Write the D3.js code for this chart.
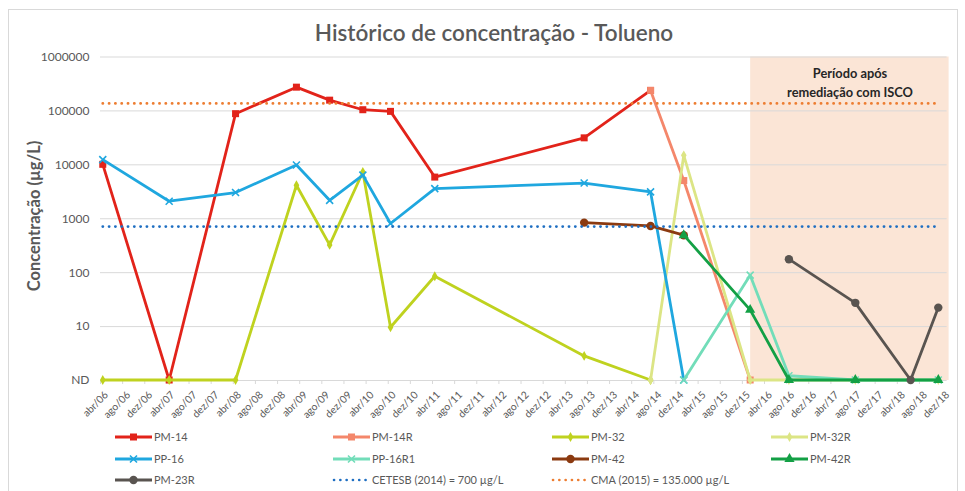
<!DOCTYPE html>
<html>
<head>
<meta charset="utf-8">
<script src="https://cdn.jsdelivr.net/npm/d3@7"></script>
<style>
  html, body { margin: 0; padding: 0; background: #ffffff; }
  svg { display: block; font-family: Lato, "Open Sans", "Liberation Sans", sans-serif; }
</style>
</head>
<body>
<svg id="chart" width="965" height="491"></svg>
<script>
// ---- Data --------------------------------------------------------------
// Sampling dates are "YYYY-MM"; "ND" = não detectado (plotted on the ND line).
const xTickLabels = [
  "abr/06","ago/06","dez/06","abr/07","ago/07","dez/07","abr/08","ago/08","dez/08",
  "abr/09","ago/09","dez/09","abr/10","ago/10","dez/10","abr/11","ago/11","dez/11",
  "abr/12","ago/12","dez/12","abr/13","ago/13","dez/13","abr/14","ago/14","dez/14",
  "abr/15","ago/15","dez/15","abr/16","ago/16","dez/16","abr/17","ago/17","dez/17",
  "abr/18","ago/18","dez/18"
];
const yTickValues = [1, 10, 100, 1000, 10000, 100000, 1000000];
const yTickLabels = ["ND", "10", "100", "1000", "10000", "100000", "1000000"];

const pm14Dates   = ["2006-04","2007-04","2008-04","2009-03","2009-09","2010-03","2010-08","2011-04","2013-07","2014-07"];
const pm14Values  = [10000, "ND", 87000, 270000, 155000, 103000, 96000, 5800, 31000, 235000];

const pm14RDates  = ["2014-07","2015-01","2016-01"];
const pm14RValues = [235000, 5000, "ND"];

const pm32Dates   = ["2006-04","2007-04","2008-04","2009-03","2009-09","2010-03","2010-08","2011-04","2013-07","2014-07"];
const pm32Values  = ["ND", "ND", "ND", 4100, 320, 7200, 9.5, 84, 2.8, "ND"];

const pm32RDates  = ["2014-07","2015-01","2016-01","2016-08","2017-08","2018-11"];
const pm32RValues = ["ND", 14700, "ND", "ND", "ND", "ND"];

const pp16Dates   = ["2006-04","2007-04","2008-04","2009-03","2009-09","2010-03","2010-08","2011-04","2013-07","2014-07","2015-01"];
const pp16Values  = [12200, 2070, 3000, 9700, 2150, 6300, 800, 3550, 4500, 3080, "ND"];

const pp16R1Dates  = ["2015-01","2016-01","2016-08","2017-08","2018-11"];
const pp16R1Values = ["ND", 88, 1.2, "ND", "ND"];

const pm42Dates   = ["2013-07","2014-07","2015-01"];
const pm42Values  = [830, 720, 485];

const pm42RDates  = ["2015-01","2016-01","2016-08","2017-08","2018-11"];
const pm42RValues = [485, 20, "ND", "ND", "ND"];

const pm23RDates  = ["2016-08","2017-08","2018-06","2018-11"];
const pm23RValues = [174, 27, "ND", 22];

// Reference limits (µg/L)
const cetesbLimit = 700;
const cmaLimit = 135000;
const limitSpan = ["2006-04", "2018-11"];

// Post-remediation period
const iscoStart = "2016-01";

// ---- Helpers -----------------------------------------------------------
const monthIndex = s => {
  const [yy, mm] = s.split("-").map(Number);
  return (yy - 2006) * 12 + (mm - 4);
};
const ND_LEVEL = 1;
const val = v => (v === "ND" ? ND_LEVEL : v);

// ---- Layout ------------------------------------------------------------
const svg = d3.select("#chart");
const plotLeft = 100, plotRight = 946.6, plotTop = 56.5, plotBottom = 380;

const x = d3.scaleLinear().domain([0, 153]).range([plotLeft, plotRight]);
const xc = m => x(m + 0.5);               // centre of a monthly slot
const y = d3.scaleLog().domain([1, 1e6]).range([plotBottom, plotTop]);

const textColor = "#595959";
const gridColor = "#D9D9D9";

svg.append("rect").attr("width", 965).attr("height", 491).attr("fill", "#fff");
svg.append("rect")
  .attr("x", 8.5).attr("y", 9.5).attr("width", 949).attr("height", 490)
  .attr("fill", "none").attr("stroke", gridColor).attr("stroke-width", 1);

// Title
svg.append("text")
  .attr("x", 494).attr("y", 41)
  .attr("text-anchor", "middle")
  .attr("font-size", 22.5)
  .attr("font-weight", 600)
  .attr("fill", textColor)
  .text("Histórico de concentração - Tolueno");

// Shaded post-ISCO period
const shadeX = xc(monthIndex(iscoStart));
svg.append("rect")
  .attr("x", shadeX).attr("y", plotTop)
  .attr("width", plotRight + 2 - shadeX).attr("height", plotBottom - plotTop)
  .attr("fill", "#FBE5D6");
const shadeLabel = svg.append("text")
  .attr("text-anchor", "middle")
  .attr("font-size", 12.8).attr("font-weight", "bold")
  .attr("fill", "#262626");
shadeLabel.append("tspan").attr("x", 850).attr("y", 78).text("Período após");
shadeLabel.append("tspan").attr("x", 850).attr("y", 97).text("remediação com ISCO");

// Horizontal gridlines
const grid = svg.append("g")
  .attr("transform", `translate(${plotLeft},0)`)
  .call(d3.axisLeft(y).tickValues(yTickValues).tickSize(-(plotRight - plotLeft)).tickFormat(""));
grid.select(".domain").remove();
grid.selectAll("line").attr("stroke", gridColor).attr("stroke-width", 1);

// Y axis labels
const yAxis = svg.append("g")
  .attr("transform", `translate(${plotLeft},0)`)
  .call(d3.axisLeft(y).tickValues(yTickValues).tickSize(0).tickPadding(10.5)
    .tickFormat((d, i) => yTickLabels[i]));
yAxis.select(".domain").remove();
yAxis.selectAll("text")
  .attr("font-size", 12).attr("fill", textColor)
  .attr("font-family", "Lato, 'Open Sans', sans-serif");

// Y axis title
svg.append("text")
  .attr("transform", "translate(40,216) rotate(-90)")
  .attr("text-anchor", "middle")
  .attr("font-size", 16.5).attr("font-weight", "bold")
  .attr("fill", textColor)
  .text("Concentração (µg/L)");

// X axis tick marks (slot boundaries every 4 months)
const xTicks = svg.append("g")
  .attr("transform", `translate(0,${plotBottom})`)
  .call(d3.axisBottom(x).tickValues(d3.range(0, 154, 4)).tickSize(4).tickFormat(""));
xTicks.select(".domain").remove();
xTicks.selectAll("line").attr("stroke", gridColor);

// X axis labels, rotated
const xLabelAxis = svg.append("g")
  .attr("transform", `translate(0,${plotBottom})`)
  .call(d3.axisBottom(x)
    .tickValues(xTickLabels.map((_, i) => i * 4 + 0.5))
    .tickSize(0)
    .tickFormat((d, i) => xTickLabels[i]));
xLabelAxis.select(".domain").remove();
xLabelAxis.selectAll("text")
  .attr("font-size", 10.3).attr("fill", textColor)
  .attr("font-family", "Lato, 'Open Sans', sans-serif")
  .attr("text-anchor", "end")
  .attr("x", 0).attr("y", 0).attr("dy", "0.35em")
  .attr("transform", "translate(3,13) rotate(-45)");

// ---- Series ------------------------------------------------------------
const series = [
  { name: "PM-14",   dates: pm14Dates,   values: pm14Values,   color: "#E2231A", marker: "square" },
  { name: "PM-14R",  dates: pm14RDates,  values: pm14RValues,  color: "#F4876B", marker: "square" },
  { name: "PM-32",   dates: pm32Dates,   values: pm32Values,   color: "#BFD21F", marker: "diamond" },
  { name: "PM-32R",  dates: pm32RDates,  values: pm32RValues,  color: "#DCE585", marker: "diamond" },
  { name: "PP-16",   dates: pp16Dates,   values: pp16Values,   color: "#1FA7DF", marker: "x" },
  { name: "PP-16R1", dates: pp16R1Dates, values: pp16R1Values, color: "#72DDB9", marker: "x" },
  { name: "PM-42",   dates: pm42Dates,   values: pm42Values,   color: "#8B3A10", marker: "circle" },
  { name: "PM-42R",  dates: pm42RDates,  values: pm42RValues,  color: "#13A045", marker: "triangle" },
  { name: "PM-23R",  dates: pm23RDates,  values: pm23RValues,  color: "#595450", marker: "circle" }
];
const limits = [
  { name: "CETESB (2014) = 700 µg/L",     value: cetesbLimit, color: "#1F6FC2" },
  { name: "CMA (2015) = 135.000 µg/L",    value: cmaLimit,    color: "#ED7D31" }
];

function drawMarker(g, type, color) {
  if (type === "square") {
    g.append("rect").attr("x", -3.5).attr("y", -3.5).attr("width", 7).attr("height", 7).attr("fill", color);
  } else if (type === "diamond") {
    g.append("path").attr("d", d3.symbol(d3.symbolDiamond, 28)()).attr("fill", color);
  } else if (type === "circle") {
    g.append("circle").attr("r", 4.2).attr("fill", color);
  } else if (type === "triangle") {
    g.append("path").attr("d", d3.symbol(d3.symbolTriangle, 45)()).attr("fill", color);
  } else if (type === "x") {
    g.append("path").attr("d", "M-3.5,-3.5L3.5,3.5M-3.5,3.5L3.5,-3.5")
      .attr("stroke", color).attr("stroke-width", 1.6).attr("fill", "none");
  }
}

const line = d3.line().x(d => xc(d.m)).y(d => y(d.v));

const plot = svg.append("g");
series.forEach(s => {
  const pts = s.dates.map((d, i) => ({ m: monthIndex(d), v: val(s.values[i]) }));
  const g = plot.append("g");
  g.append("path").datum(pts)
    .attr("d", line)
    .attr("fill", "none").attr("stroke", s.color)
    .attr("stroke-width", 2.8).attr("stroke-linejoin", "round");
  pts.forEach(p => {
    const mg = g.append("g").attr("transform", `translate(${xc(p.m)},${y(p.v)})`);
    drawMarker(mg, s.marker, s.color);
  });
});

limits.forEach(l => {
  const pts = limitSpan.map(d => ({ m: monthIndex(d), v: l.value }));
  plot.append("path").datum(pts)
    .attr("d", line)
    .attr("fill", "none").attr("stroke", l.color)
    .attr("stroke-width", 2.8).attr("stroke-linecap", "round")
    .attr("stroke-dasharray", "0.1,6.2");
});

// ---- Legend ------------------------------------------------------------
const legendCols = [115, 333, 552, 771];
const legendRows = [437, 459, 480];
const legendItems = series.map(s => ({ name: s.name, color: s.color, marker: s.marker }))
  .concat(limits.map(l => ({ name: l.name, color: l.color, dotted: true })));
const legend = svg.append("g");
legendItems.forEach((it, i) => {
  const lx = legendCols[i % 4], ly = legendRows[Math.floor(i / 4)];
  const g = legend.append("g").attr("transform", `translate(${lx},${ly})`);
  if (it.dotted) {
    g.append("line").attr("x1", 1).attr("x2", 36).attr("y1", 0).attr("y2", 0)
      .attr("stroke", it.color).attr("stroke-width", 2.6)
      .attr("stroke-linecap", "round").attr("stroke-dasharray", "0.1,6.2");
  } else {
    g.append("line").attr("x1", 0).attr("x2", 37).attr("y1", 0).attr("y2", 0)
      .attr("stroke", it.color).attr("stroke-width", 2.8);
    drawMarker(g.append("g").attr("transform", "translate(18.5,0)"), it.marker, it.color);
  }
  g.append("text").attr("x", 39).attr("y", 0).attr("dy", "0.35em")
    .attr("font-size", 11).attr("fill", textColor)
    .text(it.name);
});
</script>
</body>
</html>
